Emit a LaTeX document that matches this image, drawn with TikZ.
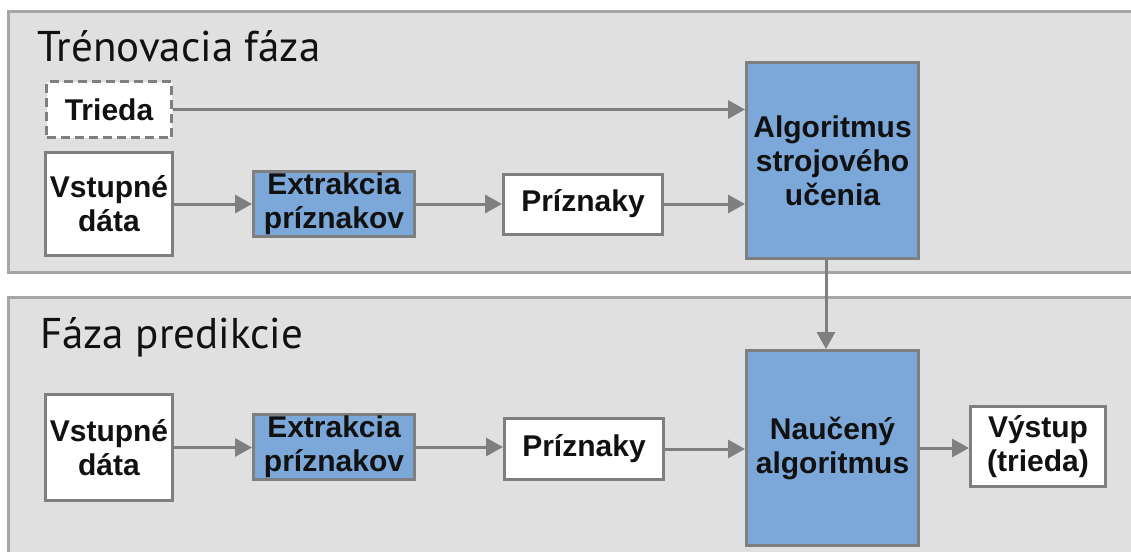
\documentclass[tikz,border=0pt]{standalone}
\usepackage{fontspec}
\setmainfont{Liberation Sans}
\newfontfamily\titlefont{PT Sans}
\usetikzlibrary{arrows.meta}

\definecolor{panelfill}{HTML}{E0E0E0}
\definecolor{panelline}{HTML}{A6A6A6}
\definecolor{boxline}{HTML}{7F7F7F}
\definecolor{bluefill}{HTML}{7BA7D9}
\definecolor{inktext}{HTML}{111111}

\tikzset{
  panel/.style={fill=panelfill, draw=panelline, line width=3pt},
  phasetitle/.style={anchor=base west, inner sep=0pt, text=inktext,
    font=\titlefont\fontsize{43}{43}\selectfont},
  basebox/.style={draw=boxline, line width=3pt, inner sep=0pt, align=center,
    text=inktext, font=\bfseries\fontsize{30}{34}\selectfont},
  whitebox/.style={basebox, fill=white},
  bluebox/.style={basebox, fill=bluefill},
  classbox/.style={whitebox, dash pattern=on 9pt off 5pt},
  flow/.style={draw=boxline, line width=3pt,
    -{Triangle[length=17pt,width=18pt]}},
}

\begin{document}
\begin{tikzpicture}[x=1pt, y=-1pt]
  \useasboundingbox (0,0) rectangle (1131,551);
  \clip (0,0) rectangle (1131,551);

  % two phase panels
  \fill[white] (0,0) rectangle (1131,551);
  \draw[panel] (8.5,11.5) rectangle (1145,272);
  \draw[panel] (8.5,297) rectangle (1145,565);

  \node[phasetitle] (ttrain) at (37,62) {Trénovacia fáza};
  \node[phasetitle] (tpred) at (40,348) {Fáza predikcie};

  % training phase
  \node[classbox, minimum width=125pt, minimum height=56pt] (trieda) at (109,109.5) {Trieda};
  \node[whitebox, minimum width=127pt, minimum height=103pt] (vst1) at (109,204) {Vstupné\\dáta};
  \node[bluebox, minimum width=161pt, minimum height=65pt] (ext1) at (334,204) {Extrakcia\\príznakov};
  \node[whitebox, minimum width=159pt, minimum height=60pt] (pri1) at (583,204) {Príznaky};
  \node[bluebox, minimum width=172pt, minimum height=196pt] (algo) at (832.5,160.5) {Algoritmus\\strojového\\učenia};

  % prediction phase
  \node[whitebox, minimum width=127pt, minimum height=106pt] (vst2) at (109,447.5) {Vstupné\\dáta};
  \node[bluebox, minimum width=161pt, minimum height=65pt] (ext2) at (334,447) {Extrakcia\\príznakov};
  \node[whitebox, minimum width=159pt, minimum height=61pt] (pri2) at (584,449) {Príznaky};
  \node[bluebox, minimum width=172pt, minimum height=195pt] (nauc) at (832.5,448) {Naučený\\algoritmus};
  \node[whitebox, minimum width=135pt, minimum height=80pt] (vyst) at (1038,446.5) {Výstup\\(trieda)};

  % connectors, training
  \draw[flow] (trieda.east) -- (trieda.east -| algo.west);
  \draw[flow] (vst1.east) -- (vst1.east -| ext1.west);
  \draw[flow] (ext1.east) -- (ext1.east -| pri1.west);
  \draw[flow] (pri1.east) -- (pri1.east -| algo.west);

  % trained model passed on
  \draw[flow] ([xshift=-6.5pt]algo.south) -- ([xshift=-6.5pt]nauc.north);

  % connectors, prediction
  \draw[flow] (vst2.east) -- (vst2.east -| ext2.west);
  \draw[flow] (ext2.east) -- (ext2.east -| pri2.west);
  \draw[flow] (pri2.east) -- (pri2.east -| nauc.west);
  \draw[flow] (nauc.east) -- (nauc.east -| vyst.west);
\end{tikzpicture}
\end{document}
